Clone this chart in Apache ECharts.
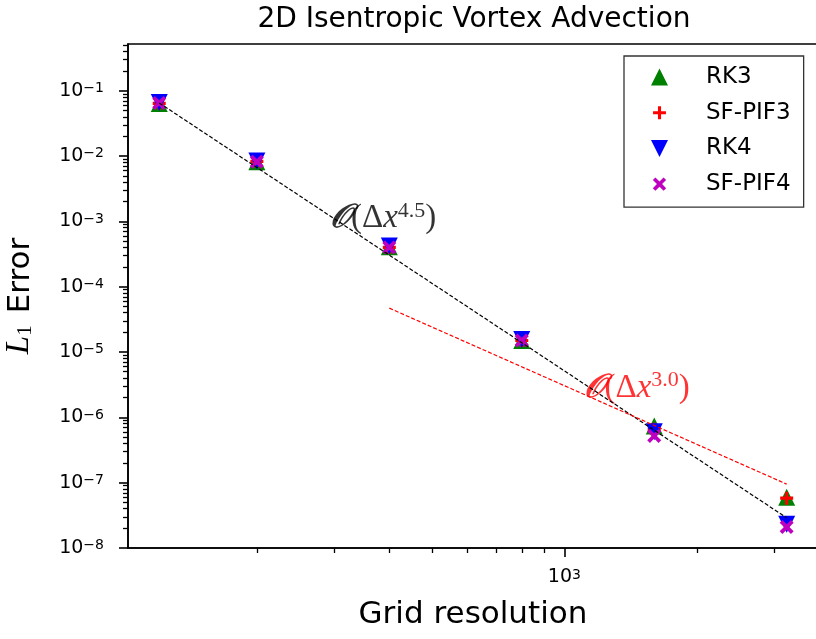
<!DOCTYPE html>
<html>
<head>
<meta charset="utf-8">
<script src="https://cdn.jsdelivr.net/npm/echarts@6/dist/echarts.min.js"></script>
<style>
html, body { margin: 0; padding: 0; background: #fff; }
#main { width: 816px; height: 639px; }
</style>
</head>
<body>
<div id="main"></div>
<script>
// values
var gridRes = [120, 200, 400, 800, 1600, 3200];
var rk3     = [0.064, 0.0082, 4.1e-4, 1.5e-5, 7.4e-7, 6.0e-8];
var sfpif3  = [0.064, 0.0083, 4.0e-4, 1.5e-5, 6.6e-7, 5.8e-8];
var rk4     = [0.066, 0.0084, 4.2e-4, 1.55e-5, 6.0e-7, 2.3e-8];
var sfpif4  = [0.065, 0.0082, 4.0e-4, 1.5e-5, 5.2e-7, 2.1e-8];

// reference slopes (end points)
var slope45 = [[120, 0.065], [3200, 2.9e-8]];
var slope30 = [[400, 4.7e-5], [3200, 9.5e-8]];

// annotation anchors (top-left of text)
var note45 = [294, 2.1e-3];
var note30 = [1108, 5.3e-6];

var xMin = 101.9, xMax = 3770;
var yMin = 1e-8, yMax = 0.52;

var xMajorTicks = [1000];
var xMinorTicks = [200, 300, 400, 500, 600, 700, 800, 900, 2000, 3000];
var yMajorTicks = [1e-8, 1e-7, 1e-6, 1e-5, 1e-4, 1e-3, 1e-2, 1e-1];
var yMinorTicks = [];
for (var e = -8; e <= -1; e++) {
  for (var m = 2; m <= 9; m++) {
    var v = m * Math.pow(10, e);
    if (v <= yMax) yMinorTicks.push(v);
  }
}

function pairs(xs, ys) {
  return xs.map(function (x, i) { return [x, ys[i]]; });
}

function powLabel(v) {
  var lg = Math.log10(v);
  var e = Math.round(lg);
  if (Math.abs(lg - e) > 1e-6) return '';
  return '{b|10}{s|' + (e < 0 ? '\u2212' + (-e) : e) + '}';
}

var tickRich = {
  b: { fontFamily: 'DejaVu Sans', fontSize: 19, color: '#000', lineHeight: 19, verticalAlign: 'middle' },
  s: { fontFamily: 'DejaVu Sans', fontSize: 14, color: '#000', lineHeight: 13, verticalAlign: 'top' }
};

var mathRich = function (color) {
  return {
    o: { fontFamily: 'DejaVu Serif', fontStyle: 'italic', fontWeight: 'bold', fontSize: 33, color: color, lineHeight: 35, verticalAlign: 'bottom' },
    p: { fontFamily: 'Liberation Serif', fontSize: 33, color: color, lineHeight: 35, verticalAlign: 'bottom' },
    i: { fontFamily: 'Liberation Serif', fontStyle: 'italic', fontSize: 33, color: color, lineHeight: 35, verticalAlign: 'bottom' },
    s: { fontFamily: 'Liberation Serif', fontSize: 22, color: color, lineHeight: 22, verticalAlign: 'top' }
  };
};

// marker shapes (matplotlib '^', '+', 'v', 'x')
var plusPath = 'path://M-1.2,-5H1.2V-1.2H5V1.2H1.2V5H-1.2V1.2H-5V-1.2H-1.2Z';
var crossPath = 'path://M2.687,-4.384L4.384,-2.687L1.697,0L4.384,2.687L2.687,4.384L0,1.697L-2.687,4.384L-4.384,2.687L-1.697,0L-4.384,-2.687L-2.687,-4.384L0,-1.697Z';
var upPath = 'path://M0,-1L1,1H-1Z';
var downPath = 'path://M-1,-1H1L0,1Z';
// legend versions of + and x, padded so they come out smaller than the triangles
var plusLegend = 'path://M-6.6,-6.6L-6.6,-6.6M6.6,6.6L6.6,6.6M-1.2,-5H1.2V-1.2H5V1.2H1.2V5H-1.2V1.2H-5V-1.2H-1.2Z';
var crossLegend = 'path://M-5.6,-5.6L-5.6,-5.6M5.6,5.6L5.6,5.6M2.687,-4.384L4.384,-2.687L1.697,0L4.384,2.687L2.687,4.384L0,1.697L-2.687,4.384L-4.384,2.687L-1.697,0L-4.384,-2.687L-2.687,-4.384L0,-1.697Z';

var chart = echarts.init(document.getElementById('main'));

var option = {
  animation: false,
  backgroundColor: '#fff',
  graphic: [{
    type: 'text',
    x: 474,
    y: 6,
    style: {
      text: '2D Isentropic Vortex Advection',
      fontFamily: 'DejaVu Sans',
      fontSize: 28,
      fill: '#000',
      align: 'center',
      verticalAlign: 'top'
    }
  }],
  grid: {
    left: 128, top: 44, width: 690, height: 504,
    outerBoundsMode: 'none', containLabel: false,
    show: true, borderColor: '#000', borderWidth: 1.6, backgroundColor: 'transparent'
  },
  legend: {
    data: [
      { name: 'RK3', icon: upPath },
      { name: 'SF-PIF3', icon: plusLegend },
      { name: 'RK4', icon: downPath },
      { name: 'SF-PIF4', icon: crossLegend }
    ],
    orient: 'vertical',
    left: 624, top: 56,
    padding: [9, 13, 11, 27],
    itemWidth: 17, itemHeight: 17, itemGap: 11.7,
    borderColor: '#333', borderWidth: 1.3, backgroundColor: '#fff',
    selectedMode: false,
    textStyle: { fontFamily: 'DejaVu Sans', fontSize: 23, color: '#000', lineHeight: 24, padding: [0, 0, 0, 33] }
  },
  xAxis: [{
    type: 'log', logBase: 10, min: xMin, max: xMax, position: 'bottom',
    name: 'Grid resolution', nameLocation: 'middle', nameGap: 51,
    nameTextStyle: { fontFamily: 'DejaVu Sans', fontSize: 31, color: '#000' },
    axisLine: { lineStyle: { color: '#000', width: 1.6 } },
    axisTick: { customValues: xMajorTicks, length: 9, lineStyle: { color: '#000', width: 1.6 } },
    axisLabel: { customValues: xMajorTicks, formatter: powLabel, rich: tickRich, margin: 20 },
    splitLine: { show: false }
  }, {
    type: 'log', logBase: 10, min: xMin, max: xMax, position: 'bottom', offset: 0,
    axisLine: { show: false },
    axisTick: { customValues: xMinorTicks, length: 5, lineStyle: { color: '#000', width: 1.3 } },
    axisLabel: { show: false },
    splitLine: { show: false }
  }],
  yAxis: [{
    type: 'log', logBase: 10, min: yMin, max: yMax, position: 'left',
    name: '{l|L}{sub|1}{e|Error}', nameLocation: 'middle', nameGap: 92, nameRotate: 90,
    nameTextStyle: {
      rich: {
        l: { fontFamily: 'Liberation Serif', fontStyle: 'italic', fontSize: 33, color: '#000', lineHeight: 34, verticalAlign: 'bottom' },
        sub: { fontFamily: 'Liberation Serif', fontSize: 21, color: '#000', lineHeight: 27, verticalAlign: 'bottom' },
        e: { fontFamily: 'DejaVu Sans', fontSize: 31, color: '#000', lineHeight: 34, verticalAlign: 'bottom', padding: [0, 0, 0, 12] }
      }
    },
    axisLine: { lineStyle: { color: '#000', width: 1.6 } },
    axisTick: { customValues: yMajorTicks, length: 9, lineStyle: { color: '#000', width: 1.6 } },
    axisLabel: { customValues: yMajorTicks, formatter: powLabel, rich: tickRich, margin: 24 },
    splitLine: { show: false }
  }, {
    type: 'log', logBase: 10, min: yMin, max: yMax, position: 'left', offset: 0,
    axisLine: { show: false },
    axisTick: { customValues: yMinorTicks, length: 5, lineStyle: { color: '#000', width: 1.3 } },
    axisLabel: { show: false },
    splitLine: { show: false }
  }],
  series: [
    {
      name: 'slope45', type: 'line', data: slope45, symbol: 'none', silent: true,
      lineStyle: { color: '#000', width: 1.2, type: [4, 2] }
    },
    {
      name: 'slope30', type: 'line', data: slope30, symbol: 'none', silent: true,
      lineStyle: { color: '#ff0000', width: 1.2, type: [4, 2] }
    },
    {
      name: 'RK3', type: 'scatter', data: pairs(gridRes, rk3),
      symbol: upPath, symbolSize: 17,
      itemStyle: { color: '#008000', opacity: 1 }
    },
    {
      name: 'SF-PIF3', type: 'scatter', data: pairs(gridRes, sfpif3),
      symbol: plusPath, symbolSize: 13,
      itemStyle: { color: '#ff0000', opacity: 1 }
    },
    {
      name: 'RK4', type: 'scatter', data: pairs(gridRes, rk4),
      symbol: downPath, symbolSize: 17,
      itemStyle: { color: '#0000ff', opacity: 1 }
    },
    {
      name: 'SF-PIF4', type: 'scatter', data: pairs(gridRes, sfpif4),
      symbol: crossPath, symbolSize: 14,
      itemStyle: { color: '#bf00bf', opacity: 1 }
    },
    {
      name: 'note45', type: 'scatter', data: [note45], symbolSize: 1, silent: true,
      itemStyle: { color: 'rgba(0,0,0,0)' },
      label: {
        show: true, position: [0, 0], align: 'left', verticalAlign: 'top',
        formatter: '{o|\uD835\uDCAA}{p|(\u0394}{i|x}{s|4.5}{p|)}', rich: mathRich('#000')
      }
    },
    {
      name: 'note30', type: 'scatter', data: [note30], symbolSize: 1, silent: true,
      itemStyle: { color: 'rgba(0,0,0,0)' },
      label: {
        show: true, position: [0, 0], align: 'left', verticalAlign: 'top',
        formatter: '{o|\uD835\uDCAA}{p|(\u0394}{i|x}{s|3.0}{p|)}', rich: mathRich('#ff0000')
      }
    }
  ]
};

chart.setOption(option);
</script>
</body>
</html>
